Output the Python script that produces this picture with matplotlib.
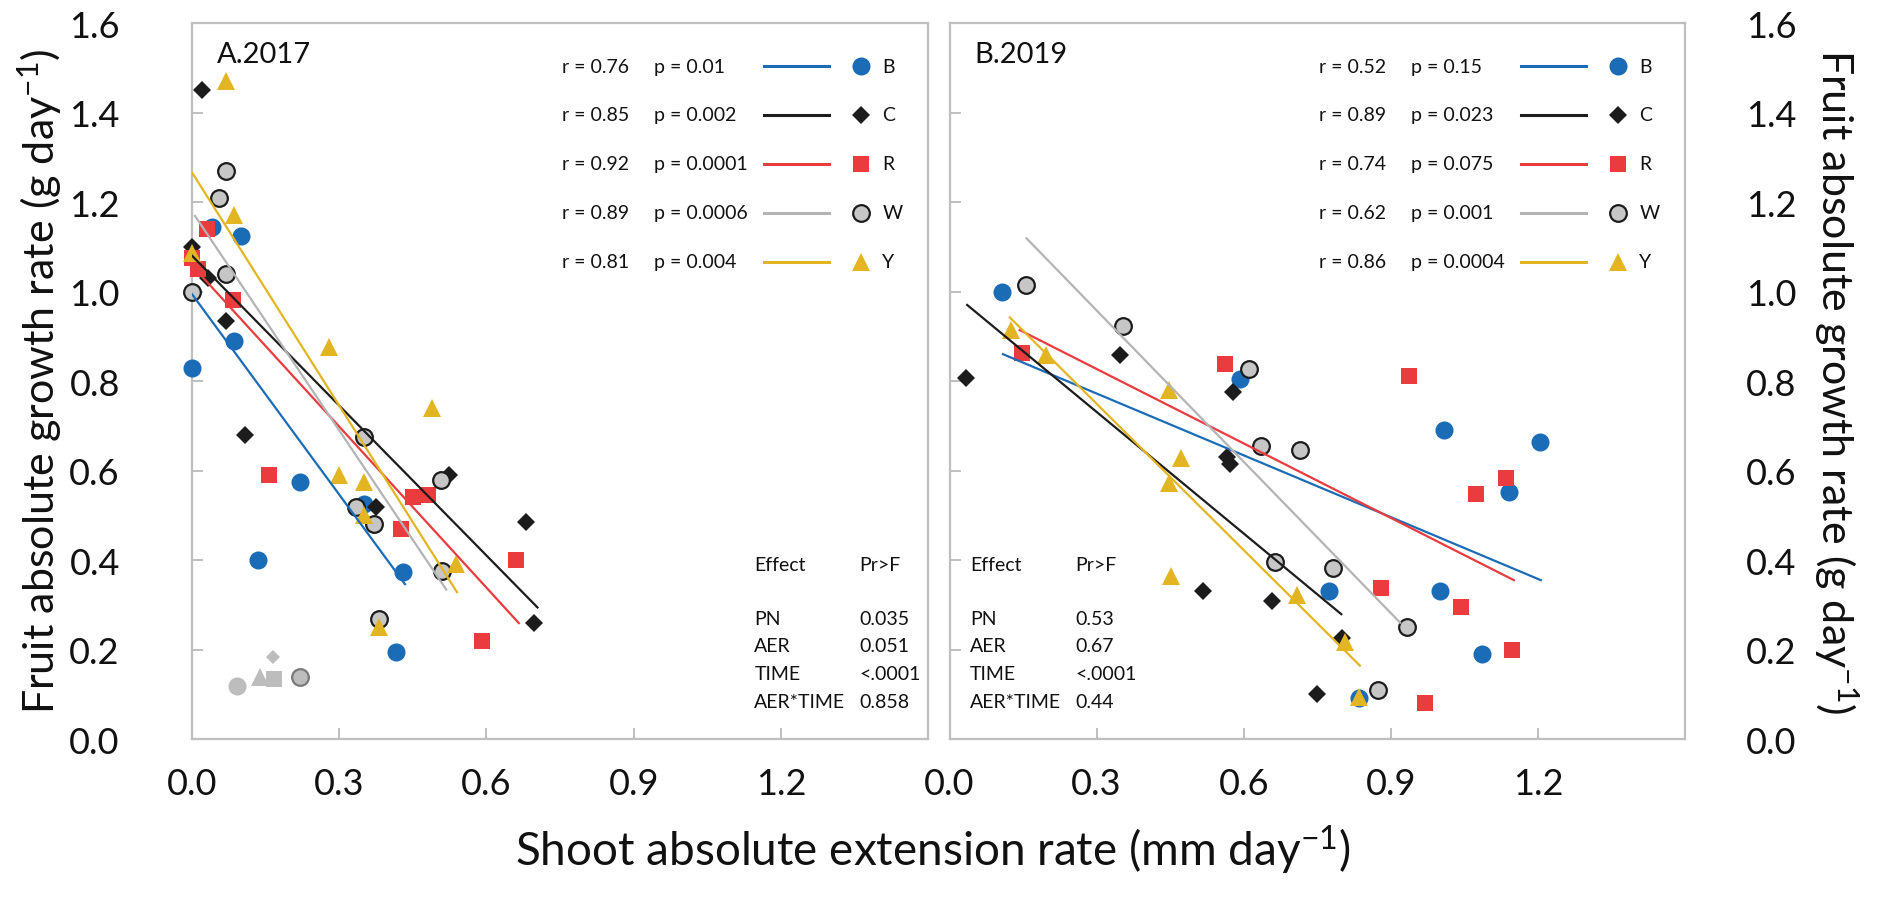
import matplotlib.pyplot as plt
import numpy as np

plt.rcParams['font.family'] = ['Lato', 'DejaVu Sans']
plt.rcParams['mathtext.fontset'] = 'custom'
plt.rcParams['mathtext.rm'] = 'Lato'
plt.rcParams['mathtext.it'] = 'Lato:italic'

SERIES = ['B', 'C', 'R', 'W', 'Y']

# ---- panel A (2017) ----
A_B_X = [0.0, 0.04, 0.10, 0.085, 0.135, 0.22, 0.35, 0.43, 0.415]
A_B_Y = [0.83, 1.145, 1.125, 0.89, 0.40, 0.575, 0.525, 0.373, 0.195]
A_C_X = [0.02, 0.0, 0.032, 0.07, 0.107, 0.375, 0.523, 0.68, 0.697]
A_C_Y = [1.45, 1.10, 1.03, 0.935, 0.68, 0.518, 0.59, 0.485, 0.26]
A_R_X = [0.03, 0.0, 0.012, 0.083, 0.157, 0.45, 0.48, 0.425, 0.66, 0.59]
A_R_Y = [1.14, 1.075, 1.05, 0.98, 0.59, 0.54, 0.545, 0.47, 0.40, 0.22]
A_W_X = [0.07, 0.055, 0.07, 0.0, 0.35, 0.507, 0.335, 0.37, 0.51, 0.38]
A_W_Y = [1.27, 1.21, 1.04, 1.0, 0.675, 0.578, 0.518, 0.48, 0.376, 0.268]
A_Y_X = [0.07, 0.085, 0.0, 0.28, 0.49, 0.30, 0.35, 0.35, 0.537, 0.38]
A_Y_Y = [1.47, 1.17, 1.085, 0.875, 0.74, 0.59, 0.575, 0.50, 0.39, 0.25]

# points left out of the fit (grey)
A_EXCL_X = [0.092, 0.139, 0.166, 0.164, 0.221]
A_EXCL_Y = [0.119, 0.138, 0.133, 0.183, 0.139]
A_EXCL_S = ['B', 'Y', 'R', 'C', 'W']

# fitted lines: start / end
A_FIT_X0 = [0.0, 0.0, 0.0, 0.006, 0.0]
A_FIT_X1 = [0.434, 0.704, 0.666, 0.518, 0.54]
A_FIT_Y0 = [0.994, 1.08, 1.058, 1.169, 1.266]
A_FIT_Y1 = [0.346, 0.294, 0.259, 0.334, 0.328]

A_R = ['0.76', '0.85', '0.92', '0.89', '0.81']
A_P = ['0.01', '0.002', '0.0001', '0.0006', '0.004']
A_EFFECT = ['PN', 'AER', 'TIME', 'AER*TIME']
A_PRF = ['0.035', '0.051', '<.0001', '0.858']

# ---- panel B (2019) ----
B_B_X = [0.107, 0.593, 0.773, 1.008, 1.204, 1.142, 1.0, 1.086, 0.836]
B_B_Y = [1.0, 0.804, 0.331, 0.69, 0.664, 0.551, 0.33, 0.191, 0.092]
B_C_X = [0.033, 0.348, 0.578, 0.565, 0.572, 0.516, 0.657, 0.80, 0.749]
B_C_Y = [0.806, 0.858, 0.775, 0.63, 0.615, 0.331, 0.308, 0.226, 0.10]
B_R_X = [0.147, 0.562, 0.938, 1.135, 1.073, 0.88, 1.043, 1.148, 0.969]
B_R_Y = [0.862, 0.838, 0.812, 0.584, 0.548, 0.338, 0.294, 0.199, 0.081]
B_W_X = [0.155, 0.354, 0.61, 0.635, 0.714, 0.664, 0.782, 0.932, 0.873]
B_W_Y = [1.015, 0.923, 0.828, 0.655, 0.646, 0.396, 0.383, 0.251, 0.109]
B_Y_X = [0.125, 0.196, 0.447, 0.473, 0.448, 0.451, 0.708, 0.807, 0.836]
B_Y_Y = [0.915, 0.858, 0.78, 0.627, 0.573, 0.365, 0.321, 0.217, 0.095]

B_FIT_X0 = [0.109, 0.036, 0.143, 0.157, 0.123]
B_FIT_X1 = [1.206, 0.799, 1.151, 0.919, 0.837]
B_FIT_Y0 = [0.86, 0.97, 0.914, 1.119, 0.942]
B_FIT_Y1 = [0.355, 0.279, 0.355, 0.26, 0.164]

B_R = ['0.52', '0.89', '0.74', '0.62', '0.86']
B_P = ['0.15', '0.023', '0.075', '0.001', '0.0004']
B_EFFECT = ['PN', 'AER', 'TIME', 'AER*TIME']
B_PRF = ['0.53', '0.67', '<.0001', '0.44']

BLUE = '#1b6cb6'
BLACK = '#1c1c1c'
RED = '#ea3b3f'
GREY_LINE = '#b4b4b4'
YELLOW = '#e4b522'
SPINE = '#bfbfbf'
EXCL = '#bdbdbd'

LINE_COL = {'B': BLUE, 'C': BLACK, 'R': RED, 'W': GREY_LINE, 'Y': YELLOW}
MARK = {
    'B': dict(marker='o', ms=13, mfc=BLUE, mec=BLUE, mew=0),
    'C': dict(marker='D', ms=9.5, mfc=BLACK, mec=BLACK, mew=0),
    'R': dict(marker='s', ms=12, mfc=RED, mec=RED, mew=0),
    'W': dict(marker='o', ms=12, mfc='#c6c6c6', mec=BLACK, mew=1.6),
    'Y': dict(marker='^', ms=12.5, mfc=YELLOW, mec=YELLOW, mew=0),
}

fig = plt.figure(figsize=(18.81, 9.04), dpi=100)
axA = fig.add_axes([0.1021, 0.1814, 0.3913, 0.792])
axB = fig.add_axes([0.5048, 0.1814, 0.3910, 0.792])


def draw_panel(ax, title, xs, ys, fx0, fx1, fy0, fy1, rvals, pvals, effects, prf, stat_x):
    for s, x, y in zip(SERIES, xs, ys):
        ax.plot(x, y, ls='none', clip_on=False, zorder=3, **MARK[s])
    for i, s in enumerate(SERIES):
        ax.plot([fx0[i], fx1[i]], [fy0[i], fy1[i]], color=LINE_COL[s], lw=1.6, zorder=4)

    ax.set_xlim(0, 1.5)
    ax.set_ylim(0, 1.6)
    ax.set_xticks([0.0, 0.3, 0.6, 0.9, 1.2])
    ax.set_xticklabels(['0.0', '0.3', '0.6', '0.9', '1.2'])
    ax.set_yticks(np.arange(0, 1.61, 0.2))
    ax.set_yticklabels(['%.1f' % v for v in np.arange(0, 1.61, 0.2)])
    for sp in ax.spines.values():
        sp.set_color(SPINE)
        sp.set_linewidth(1.6)
    ax.tick_params(direction='in', length=8, width=1.4, color=SPINE,
                   labelsize=26, labelcolor='#111111')
    ax.tick_params(axis='x', pad=20)

    ax.text(0.034, 0.957, title, transform=ax.transAxes, fontsize=21,
            va='center', ha='left', color='#111111')

    # legend rows: r, p, line, marker, letter
    for i, s in enumerate(SERIES):
        yy = 0.940 - i * 0.0683
        ax.text(0.503, yy, 'r = ' + rvals[i], transform=ax.transAxes,
                fontsize=14, va='center', color='#111111')
        ax.text(0.628, yy, 'p = ' + pvals[i], transform=ax.transAxes,
                fontsize=14, va='center', color='#111111')
        ax.plot([0.777, 0.865], [yy, yy], transform=ax.transAxes,
                color=LINE_COL[s], lw=2.2, clip_on=False)
        ax.plot([0.909], [yy], transform=ax.transAxes, ls='none',
                clip_on=False, **MARK[s])
        ax.text(0.938, yy, s, transform=ax.transAxes, fontsize=14,
                va='center', color='#111111')

    # effect table
    ax.text(stat_x, 0.244, 'Effect', transform=ax.transAxes, fontsize=14,
            va='center', color='#111111')
    ax.text(stat_x + 0.143, 0.244, 'Pr>F', transform=ax.transAxes, fontsize=14,
            va='center', color='#111111')
    for i, (e, v) in enumerate(zip(effects, prf)):
        yy = 0.169 - i * 0.0387
        ax.text(stat_x, yy, e, transform=ax.transAxes, fontsize=14,
                va='center', color='#111111')
        ax.text(stat_x + 0.143, yy, v, transform=ax.transAxes, fontsize=14,
                va='center', color='#111111')


draw_panel(axA, 'A.2017',
           [A_B_X, A_C_X, A_R_X, A_W_X, A_Y_X],
           [A_B_Y, A_C_Y, A_R_Y, A_W_Y, A_Y_Y],
           A_FIT_X0, A_FIT_X1, A_FIT_Y0, A_FIT_Y1, A_R, A_P, A_EFFECT, A_PRF, 0.764)

# excluded points in grey
for s, x, y in zip(A_EXCL_S, A_EXCL_X, A_EXCL_Y):
    st = dict(MARK[s])
    st['mfc'] = EXCL
    st['mec'] = '#7a7a7a' if s == 'W' else EXCL
    if s == 'C':
        st['ms'] = 7.5
    axA.plot([x], [y], ls='none', zorder=3, **st)

draw_panel(axB, 'B.2019',
           [B_B_X, B_C_X, B_R_X, B_W_X, B_Y_X],
           [B_B_Y, B_C_Y, B_R_Y, B_W_Y, B_Y_Y],
           B_FIT_X0, B_FIT_X1, B_FIT_Y0, B_FIT_Y1, B_R, B_P, B_EFFECT, B_PRF, 0.028)

axA.tick_params(axis='y', pad=52)
axB.tick_params(axis='y', left=True, right=False, labelleft=False,
                labelright=True, pad=44)

fig.text(0.021, 0.578, 'Fruit absolute growth rate (g day$^{-1}$)',
         rotation=90, fontsize=31, va='center', ha='center', color='#111111')
fig.text(0.976, 0.578, 'Fruit absolute growth rate (g day$^{-1}$)',
         rotation=270, fontsize=31, va='center', ha='center', color='#111111')
fig.text(0.496, 0.06, 'Shoot absolute extension rate (mm day$^{-1}$)',
         fontsize=33, va='center', ha='center', color='#111111')

fig.savefig('out.png', dpi=100)
